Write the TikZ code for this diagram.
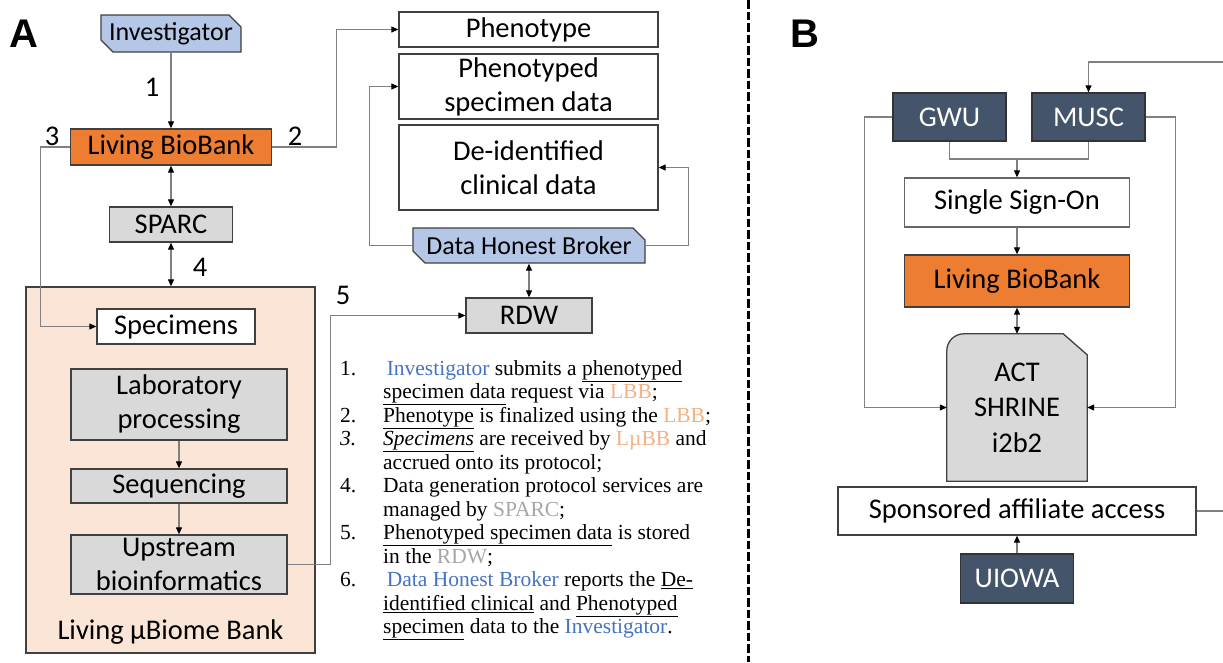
\documentclass[tikz,border=0pt]{standalone}
\usepackage{fontspec}
\setmainfont{Carlito}
\newfontfamily\listfont{Liberation Serif}
\newfontfamily\panelfont{Liberation Sans}
\usetikzlibrary{arrows.meta,shapes.misc,backgrounds}
\definecolor{invblue}{HTML}{B4C7E7}
\definecolor{lbborange}{HTML}{ED7D31}
\definecolor{boxgray}{HTML}{D9D9D9}
\definecolor{bankpeach}{HTML}{FBE5D6}
\definecolor{siteslate}{HTML}{44546A}
\definecolor{txtblue}{HTML}{4472C4}
\definecolor{txtorange}{HTML}{F4B183}
\definecolor{txtgray}{HTML}{A6A6A6}
\definecolor{wiregray}{HTML}{808080}

\begin{document}
\begin{tikzpicture}
[x=1pt, y=-1pt,
 every node/.style ={inner sep=0pt, align=center, font=\fontsize{28.5}{34}\selectfont},
 box/.style ={rectangle, draw=black!75, line width=1.3pt},
 whitebox/.style ={box, fill=white},
 graybox/.style ={box, fill=boxgray},
 orangebox/.style ={box, fill=lbborange},
 bankbox/.style ={box, fill=bankpeach},
 sitebox/.style ={box, draw=black!80, fill=siteslate, text=white},
 bluebox/.style ={chamfered rectangle, chamfered rectangle corners={north east,south west},
 chamfered rectangle xsep=6pt, chamfered rectangle ysep=6pt,
 draw=black!75, line width=1.3pt, fill=invblue, font=\fontsize{26}{30}\selectfont},
 wire/.style ={draw=wiregray, line width=1.1pt},
 line/.style ={wire, -{Triangle[length=7pt,width=6pt,color=black]}},
 dline/.style ={wire, {Triangle[length=7pt,width=6pt,color=black]}-{Triangle[length=7pt,width=6pt,color=black]}},
 panel/.style ={font=\panelfont\bfseries\fontsize{40}{40}\selectfont, anchor=base}]
\useasboundingbox (0,0) rectangle (1223,662);

% panel A
\draw (23.5, 47) node[panel] (pa) {A};
\draw (170.5, 470) node[bankbox, minimum width=289pt, minimum height=366pt] (ubb) {};
\draw (170.5, 632) node (ubbname) {Living µBiome Bank};
\draw (171, 33.5) node[bluebox, minimum width=140pt, minimum height=37pt] (inv) {Investigator};
\draw (171, 147) node[orangebox, minimum width=201pt, minimum height=36pt] (lbb) {Living BioBank};
\draw (171, 224.5) node[graybox, minimum width=123pt, minimum height=35pt] (sparc) {SPARC};
\draw (176, 326.5) node[whitebox, minimum width=158pt, minimum height=35pt] (spec) {Specimens};
\draw (179, 404.5) node[graybox, minimum width=216pt, minimum height=71pt] (lab) {Laboratory\\processing};
\draw (179, 486) node[graybox, minimum width=216pt, minimum height=34pt] (seq) {Sequencing};
\draw (179, 564.5) node[graybox, minimum width=216pt, minimum height=59pt] (ups) {Upstream\\bioinformatics};
\draw (528.5, 29.5) node[whitebox, minimum width=259pt, minimum height=35pt] (pheno) {Phenotype};
\draw (528.5, 86.5) node[whitebox, minimum width=259pt, minimum height=65pt] (phenospec) {Phenotyped\\specimen data};
\draw (528.5, 167.5) node[whitebox, minimum width=259pt, minimum height=85pt] (deid) {De-identified\\clinical data};
\draw (529, 245.5) node[bluebox, minimum width=232pt, minimum height=35pt] (dhb) {Data Honest Broker};
\draw (529, 315.5) node[graybox, minimum width=126pt, minimum height=35pt] (rdw) {RDW};

\draw (152, 87) node (n1) {1};
\draw (295, 136) node (n2) {2};
\draw (52, 136) node (n3) {3};
\draw (200, 267) node (n4) {4};
\draw (343, 295) node (n5) {5};

\draw[line] (inv.south) -- (lbb.north);
\draw[dline] (lbb.south) -- (sparc.north);
\draw[dline] (sparc.south) -- (sparc.south |- ubb.north);
\draw[line] (lbb.east) -- ++(64,0) |- (pheno.west);
\draw[line] (lbb.west) -- ++(-29,0) |- (spec.west);
\draw[line] (lab.south) -- (seq.north);
\draw[line] (seq.south) -- (ups.north);
\draw[line] (ups.east) -- ++(43,0) |- (rdw.west);
\draw[line] (dhb.west) -- ++(-43,0) |- (phenospec.west);
\draw[line] (dhb.east) -- ++(43,0) |- (deid.east);
\draw[dline] (dhb.south) -- (rdw.north);

\draw (340, 358.5) node[anchor=north west, font=\listfont\fontsize{21.5}{23.5}\selectfont] (steps)
{\begin{tabular}[t]{@{}p{43pt}@{}l@{}}
1. & \,\textcolor{txtblue}{Investigator} submits a \underline{phenotyped}\\
 & \underline{specimen data} request via \textcolor{txtorange}{LBB};\\
2. & \underline{Phenotype} is finalized using the \textcolor{txtorange}{LBB};\\
\textit{3.} & \underline{\textit{Specimens}} are received by \textcolor{txtorange}{LµBB} and\\
 & accrued onto its protocol;\\
4. & Data generation protocol services are\\
 & managed by \textcolor{txtgray}{SPARC};\\
5. & \underline{Phenotyped specimen data} is stored\\
 & in the \textcolor{txtgray}{RDW};\\
6. & \,\textcolor{txtblue}{Data Honest Broker} reports the \underline{De-}\\
 & \underline{identified clinical} and \underline{Phenotyped}\\
 & \underline{specimen} data to the \textcolor{txtblue}{Investigator}.
\end{tabular}};

% divider
\draw[line width=3pt, dash pattern=on 8.5pt off 3pt] (748, 0) -- (748, 662);

% panel B
\draw (804.5, 47) node[panel] (pb) {B};
\draw (949.5, 117) node[sitebox, minimum width=113pt, minimum height=48pt] (gwu) {GWU};
\draw (1088.5, 117) node[sitebox, minimum width=113pt, minimum height=48pt] (musc) {MUSC};
\draw (1017, 202.5) node[whitebox, draw=black!60, minimum width=225pt, minimum height=49pt] (sso) {Single Sign-On};
\draw (1017, 281) node[orangebox, minimum width=225pt, minimum height=52pt] (lbbb) {Living BioBank};
\draw (1017, 407.5) node[minimum width=140pt, minimum height=147pt, font=\fontsize{28.5}{35.5}\selectfont] (act) {ACT\\SHRINE\\i2b2};
\draw (1017, 511) node[whitebox, minimum width=358pt, minimum height=48pt] (saa) {Sponsored affiliate access};
\draw (1017, 578.5) node[sitebox, minimum width=113pt, minimum height=49pt] (uiowa) {UIOWA};
\begin{scope}[on background layer]
\draw[draw=black!75, line width=1.3pt, fill=boxgray] (act.south west) -- ([yshift=-17pt]act.north west)
 to[out=90,in=180] ([xshift=17pt]act.north west) -- ([xshift=-24pt]act.north east)
 -- ([yshift=-21pt]act.north east) -- (act.south east) -- cycle;
\end{scope}

\coordinate (junc) at (1017, 159);
\coordinate (loop) at (1240, 62);
\draw[wire] (gwu.south) |- (junc);
\draw[line] (musc.south) |- (junc) -- (sso.north);
\draw[line] (sso.south) -- (lbbb.north);
\draw[dline] (lbbb.south) -- (act.north);
\draw[line] (gwu.west) -- ++(-28,0) |- (act.west);
\draw[line] (musc.east) -- ++(30,0) |- (act.east);
\draw[line] (uiowa.north) -- (saa.south);
\draw[line] (saa.east) -| (loop) -| (musc.north);
\end{tikzpicture}
\end{document}
